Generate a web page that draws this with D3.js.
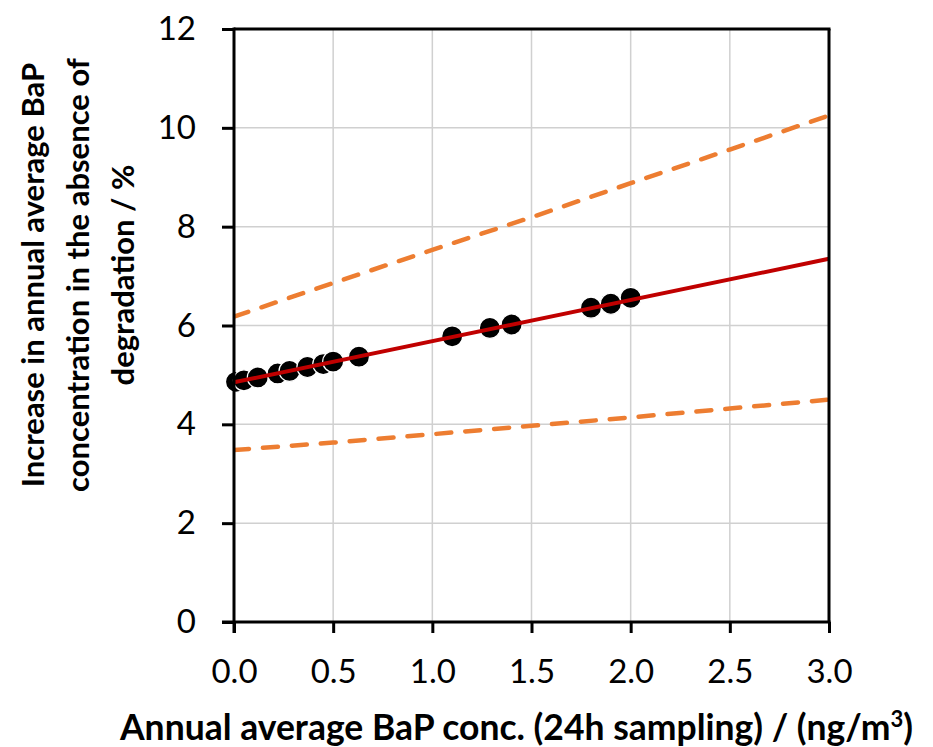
<!DOCTYPE html>
<html>
<head>
<meta charset="utf-8">
<script src="https://cdn.jsdelivr.net/npm/d3@7"></script>
<style>
  html, body { margin: 0; padding: 0; background: #fff; }
  svg { display: block; }
  text { font-family: Lato, "Open Sans", sans-serif; fill: #000; }
</style>
</head>
<body>
<svg id="chart" width="933" height="747"></svg>
<script>
// ---- data ----
const pointX = [0.01, 0.05, 0.12, 0.22, 0.28, 0.37, 0.45, 0.50, 0.63, 1.10, 1.29, 1.40, 1.80, 1.90, 2.00];
const pointY = [4.86, 4.89, 4.95, 5.03, 5.08, 5.16, 5.22, 5.27, 5.37, 5.78, 5.95, 6.02, 6.36, 6.44, 6.56];
const fitX = [0, 3.0];
const fitY = [4.85, 7.35];
const bandX = [0, 0.5, 1.0, 1.5, 2.0, 2.5, 3.0];
const upperY = [6.18, 6.86, 7.53, 8.19, 8.88, 9.56, 10.25];
const lowerY = [3.48, 3.63, 3.80, 3.97, 4.14, 4.32, 4.50];
const xTicks = [0, 0.5, 1.0, 1.5, 2.0, 2.5, 3.0];
const yTicks = [0, 2, 4, 6, 8, 10, 12];
const xTitle = "Annual average BaP conc. (24h sampling) / (ng/m";
const yTitleLines = ["Increase in annual average BaP", "concentration in the absence of", "degradation / %"];

// ---- layout ----
const svg = d3.select("#chart");
const L = 234, R = 829, T = 29, B = 622;
const x = d3.scaleLinear().domain([0, 3]).range([L, R]);
const y = d3.scaleLinear().domain([0, 12]).range([B, T]);

// gridlines
svg.append("g").selectAll("line.gx").data(xTicks.slice(1, -1)).join("line")
  .attr("x1", d => x(d)).attr("x2", d => x(d)).attr("y1", T).attr("y2", B)
  .attr("stroke", "#d0d0d0").attr("stroke-width", 1.5);
svg.append("g").selectAll("line.gy").data(yTicks.slice(1, -1)).join("line")
  .attr("y1", d => y(d)).attr("y2", d => y(d)).attr("x1", L).attr("x2", R)
  .attr("stroke", "#d0d0d0").attr("stroke-width", 1.5);

// points
svg.append("g").selectAll("circle").data(pointX.map((v, i) => [v, pointY[i]])).join("circle")
  .attr("cx", d => x(d[0])).attr("cy", d => y(d[1])).attr("r", 10.5)
  .attr("fill", "#000").attr("stroke", "#fff").attr("stroke-width", 1.2);

const line = d3.line().x(d => x(d[0])).y(d => y(d[1]));
svg.append("clipPath").attr("id", "plotclip").append("rect")
  .attr("x", L).attr("y", T).attr("width", R - L).attr("height", B - T);

// dashed band lines
[upperY, lowerY].forEach(arr => {
  svg.append("path").datum(bandX.map((v, i) => [v, arr[i]]))
    .attr("d", line).attr("fill", "none").attr("stroke", "#ED7D31")
    .attr("stroke-width", 4.5).attr("stroke-dasharray", "15,14")
    .attr("stroke-linecap", "round").attr("clip-path", "url(#plotclip)");
});

// fit line
svg.append("path").datum(fitX.map((v, i) => [v, fitY[i]]))
  .attr("d", line).attr("fill", "none").attr("stroke", "#C00000")
  .attr("stroke-width", 4);

// frame (top and right)
svg.append("line").attr("x1", L).attr("x2", R + 1.5).attr("y1", T).attr("y2", T)
  .attr("stroke", "#000").attr("stroke-width", 3);
svg.append("line").attr("x1", R).attr("x2", R).attr("y1", T).attr("y2", B)
  .attr("stroke", "#000").attr("stroke-width", 3);

// axes
const xAxis = d3.axisBottom(x).tickValues(xTicks).tickFormat(d3.format(".1f")).tickSize(11).tickPadding(27);
const gx = svg.append("g").attr("transform", `translate(0,${B})`).call(xAxis);
gx.select(".domain").attr("stroke", "#000").attr("stroke-width", 3).attr("d", `M${L - 12},0H${R + 1.5}`);
gx.selectAll(".tick line").attr("stroke", "#000").attr("stroke-width", 3);
gx.selectAll(".tick text").attr("font-size", 33).attr("font-family", "Lato, sans-serif").attr("fill", "#000");

const yAxis = d3.axisLeft(y).tickValues(yTicks).tickFormat(d3.format("d")).tickSize(12).tickPadding(26);
const gy = svg.append("g").attr("transform", `translate(${L},0)`).call(yAxis);
gy.select(".domain").attr("stroke", "#000").attr("stroke-width", 3).attr("d", `M0,${T - 1.5}V${B + 11}`);
gy.selectAll(".tick line").attr("stroke", "#000").attr("stroke-width", 3);
gy.selectAll(".tick text").attr("font-size", 33).attr("font-family", "Lato, sans-serif").attr("fill", "#000");

// x title
const xt = svg.append("text").attr("x", 120).attr("y", 740)
  .attr("font-size", 35.5).attr("font-weight", "bold");
xt.append("tspan").text(xTitle);
xt.append("tspan").text("3").attr("font-size", 22).attr("dy", -13);
xt.append("tspan").text(")").attr("dy", 13);

// y title
const yt = svg.append("g").attr("transform", "translate(0,275) rotate(-90)");
yTitleLines.forEach((s, i) => {
  yt.append("text").attr("x", 0).attr("y", 44 + i * 45)
    .attr("text-anchor", "middle").attr("font-size", 31).attr("font-weight", "bold").text(s);
});
</script>
</body>
</html>
